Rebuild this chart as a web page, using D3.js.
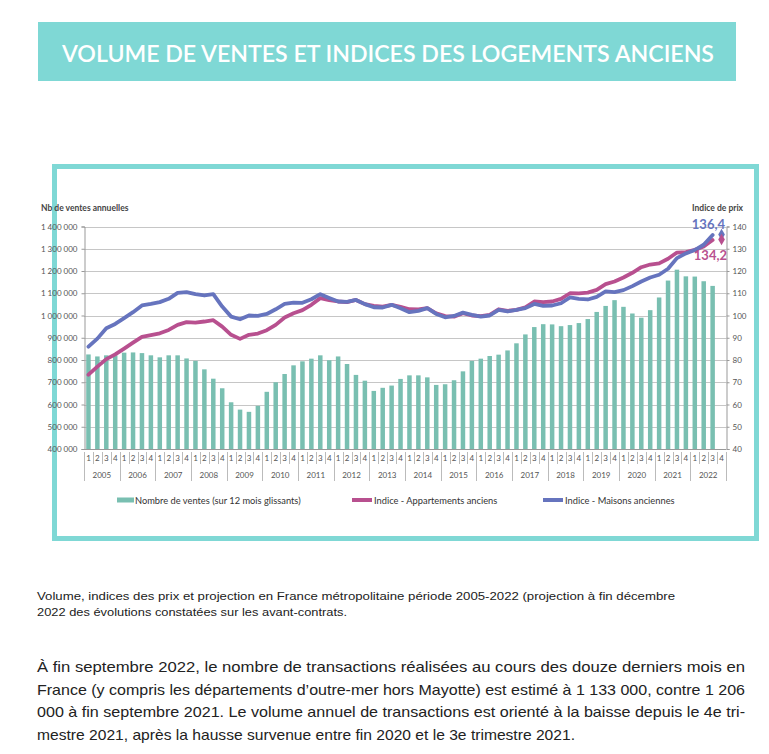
<!DOCTYPE html>
<html><head><meta charset="utf-8">
<script src="https://cdn.jsdelivr.net/npm/d3@7"></script>
<style>body{margin:0;background:#fff}svg{display:block}</style>
</head><body><svg id="c" width="769" height="754"></svg>
<script>
// ---------- data ----------
const years = [2005,2006,2007,2008,2009,2010,2011,2012,2013,2014,2015,2016,2017,2018,2019,2020,2021,2022];
const quarterLabels = ["1","2","3","4"];
// Nombre de ventes (sur 12 mois glissants), 2005T1 .. 2022T3
const ventes = [
  825000,816000,821000,821000, 833000,834000,831000,821000, 812000,821000,821000,807000,
  796000,758000,716000,673000, 610000,577000,567000,594000, 657000,700000,737000,776000,
  794000,806000,821000,799000, 816000,782000,733000,707000, 661000,675000,685000,715000,
  731000,731000,722000,688000, 691000,709000,749000,796000, 806000,818000,824000,843000,
  875000,915000,948000,961000, 960000,952000,957000,966000, 984000,1016000,1043000,1069000,
  1039000,1009000,990000,1024000, 1081000,1157000,1206000,1176000, 1175000,1154000,1133000
];
// Indice - Appartements anciens
const apparts = [
  73.4,77.0,80.4,82.5, 85.1,87.8,90.4,91.2, 92.0,93.5,95.8,97.0,
  96.8,97.3,97.9,95.0, 91.3,89.5,91.3,91.9, 93.4,95.8,99.1,101.0,
  102.4,104.8,107.8,106.9, 106.3,106.0,107.0,105.1, 104.3,104.0,104.8,103.9,
  102.8,102.7,103.3,101.0, 99.7,99.5,101.0,100.0, 99.7,100.3,102.8,102.1,
  102.5,103.7,106.3,106.0, 106.3,107.5,110.0,109.9, 110.3,111.5,114.1,115.3,
  117.1,119.2,121.7,122.9, 123.4,125.5,128.3,128.5, 129.5,131.0,133.9
];
// Indice - Maisons anciennes
const maisons = [
  86.0,89.6,94.3,96.2, 98.8,101.5,104.5,105.2, 106.0,107.5,110.2,110.5,
  109.6,109.0,109.6,104.0, 99.5,98.3,100.0,99.8, 100.7,102.8,105.2,105.8,
  105.7,107.3,109.6,107.9, 106.3,106.1,107.0,105.1, 103.7,103.6,104.8,103.3,
  101.5,102.1,103.3,100.7, 99.2,99.8,101.3,100.3, 99.5,100.0,102.5,101.8,
  102.5,103.3,105.2,104.3, 104.5,105.5,108.1,107.5, 107.2,108.4,110.8,110.5,
  111.4,113.2,115.3,117.1, 118.3,121.0,125.8,127.9, 129.4,131.8,136.2
];
// projection fin 2022 (T4)
const projNames = ["maisons","apparts"];
const projValues = [136.4, 134.2];
const projLabels = ["136,4", "134,2"];
const leftTicks = [400000,500000,600000,700000,800000,900000,1000000,1100000,1200000,1300000,1400000];
const rightTicks = [40,50,60,70,80,90,100,110,120,130,140];
const legendLabels = ["Nombre de ventes (sur 12 mois glissants)","Indice - Appartements anciens","Indice - Maisons anciennes"];

const title = "VOLUME DE VENTES ET INDICES DES LOGEMENTS ANCIENS";
const captionLines = [
  "Volume, indices des prix et projection en France métropolitaine période 2005-2022 (projection à fin décembre",
  "2022 des évolutions constatées sur les avant-contrats."
];
const bodyLines = [
  "À fin septembre 2022, le nombre de transactions réalisées au cours des douze derniers mois en",
  "France (y compris les départements d’outre-mer hors Mayotte) est estimé à 1 133 000, contre 1 206",
  "000 à fin septembre 2021. Le volume annuel de transactions est orienté à la baisse depuis le 4e tri-",
  "mestre 2021, après la hausse survenue entre fin 2020 et le 3e trimestre 2021."
];

// ---------- styles ----------
const TEAL = "#7fd8d5", BAR = "#79bfb1", MAG = "#b8508f", BLUE = "#6674be";
const svg = d3.select("#c");
svg.append("rect").attr("width",769).attr("height",754).attr("fill","#fff");

// title banner
svg.append("rect").attr("x",38).attr("y",22).attr("width",698).attr("height",59).attr("fill",TEAL);
svg.append("text").attr("x",62).attr("y",62).attr("fill","#fff")
  .style("font-family","Lato, 'Open Sans', sans-serif").style("font-size","23.5px").style("font-weight","600")
  .attr("textLength",652).attr("lengthAdjust","spacingAndGlyphs").text(title);

// chart frame
svg.append("rect").attr("x",54.5).attr("y",166.5).attr("width",702).attr("height",372)
  .attr("fill","#fff").attr("stroke",TEAL).attr("stroke-width",5);

// ---------- scales ----------
const n = years.length * 4;
const idx = d3.range(n);
const x = d3.scaleBand().domain(idx).range([84, 726]).padding(0);
const yL = d3.scaleLinear().domain([400000, 1400000]).range([449, 226.5]);
const yR = d3.scaleLinear().domain([40, 140]).range([449, 226.5]);
const cx = i => x(i) + x.bandwidth() / 2;

const g = svg.append("g");
// gridlines
g.selectAll("line.grid").data(leftTicks).join("line").attr("class","grid")
  .attr("x1",84).attr("x2",726).attr("y1",d=>Math.round(yL(d))+0.5).attr("y2",d=>Math.round(yL(d))+0.5)
  .attr("stroke","#c6c6c6").attr("stroke-width",1);

// axes
const fmtL = d => d3.format(",")(d).replace(/,/g, " ");
const axL = g.append("g").attr("transform","translate(84.5,0)")
  .call(d3.axisLeft(yL).tickValues(leftTicks).tickFormat(fmtL).tickSize(3).tickPadding(4));
const axR = g.append("g").attr("transform","translate(726.5,0)")
  .call(d3.axisRight(yR).tickValues(rightTicks).tickSize(3).tickPadding(3));
[axL, axR].forEach(a => {
  a.selectAll("path,line").attr("stroke","#999");
  a.selectAll("text").attr("fill","#555").style("font-family","Lato, sans-serif").style("font-size","8px");
});

// bars
g.selectAll("rect.bar").data(ventes).join("rect").attr("class","bar")
  .attr("x",(d,i)=>cx(i)-2.25).attr("width",4.5)
  .attr("y",d=>yL(d)).attr("height",d=>yL(400000)-yL(d)).attr("fill",BAR);

// bottom axis line
g.append("line").attr("x1",84).attr("x2",726).attr("y1",449.5).attr("y2",449.5).attr("stroke","#999");

// quarter labels and separators
const ql = g.append("g").style("font-family","Lato, sans-serif").style("font-size","8px").attr("fill","#555");
ql.selectAll("text.q").data(idx).join("text").attr("class","q")
  .attr("x",i=>cx(i)).attr("y",461).attr("text-anchor","middle").text(i=>quarterLabels[i%4]);
g.selectAll("line.qs").data(d3.range(0, n+1)).join("line").attr("class","qs")
  .attr("x1",i=>Math.round(i===n?726:x(i))+0.5).attr("x2",i=>Math.round(i===n?726:x(i))+0.5)
  .attr("y1",452).attr("y2",i=>i%4===0?481:464).attr("stroke","#aaa").attr("stroke-width",0.8);
ql.selectAll("text.y").data(years).join("text").attr("class","y")
  .attr("x",(d,k)=>(x(k*4)+ (k*4+4<n? x(k*4+4) : 726))/2).attr("y",478).attr("text-anchor","middle").text(d=>d);

// lines
const line = d3.line().x((d,i)=>cx(i)).y(d=>yR(d)).curve(d3.curveLinear);
g.append("path").datum(apparts).attr("d",line).attr("fill","none").attr("stroke",MAG)
  .attr("stroke-width",3.8).attr("stroke-linejoin","round").attr("stroke-linecap","round");
g.append("path").datum(maisons).attr("d",line).attr("fill","none").attr("stroke",BLUE)
  .attr("stroke-width",3.8).attr("stroke-linejoin","round").attr("stroke-linecap","round");

// projection diamonds + labels
const projColors = [BLUE, MAG];
g.selectAll("path.proj").data(projValues).join("path").attr("class","proj")
  .attr("transform",(d)=>`translate(${cx(n-1)},${yR(d)})`)
  .attr("d",d3.symbol(d3.symbolDiamond, 38)).attr("fill",(d,i)=>projColors[i]);
g.selectAll("text.proj").data(projLabels).join("text").attr("class","proj")
  .attr("x",(d,i)=>i===0?725:727).attr("y",(d,i)=>i===0?229:260).attr("text-anchor","end")
  .attr("fill",(d,i)=>projColors[i])
  .style("font-family","Lato, sans-serif").style("font-size","13px").style("font-weight","700")
  .text(d=>d);

// axis titles
g.append("text").attr("x",41).attr("y",211).attr("fill","#444")
  .style("font-family","Lato, sans-serif").style("font-size","8.5px").style("font-weight","700")
  .text("Nb de ventes annuelles");
g.append("text").attr("x",743).attr("y",211).attr("text-anchor","end").attr("fill","#444")
  .style("font-family","Lato, sans-serif").style("font-size","8.5px").style("font-weight","700")
  .text("Indice de prix");

// legend
const lg = g.append("g").style("font-family","Lato, sans-serif").style("font-size","9.3px").attr("fill","#333");
lg.append("rect").attr("x",117).attr("y",497.5).attr("width",17).attr("height",5).attr("fill",BAR);
lg.append("line").attr("x1",352).attr("x2",372).attr("y1",500).attr("y2",500).attr("stroke",MAG).attr("stroke-width",4);
lg.append("line").attr("x1",543).attr("x2",563).attr("y1",500).attr("y2",500).attr("stroke",BLUE).attr("stroke-width",4);
const lgX = [135, 374, 565];
lg.selectAll("text").data(legendLabels).join("text").attr("x",(d,i)=>lgX[i]).attr("y",503.5).text(d=>d);

// caption
const tf = "'Liberation Sans', Arial, sans-serif";
const capW = [638, 310];
svg.selectAll("text.cap").data(captionLines).join("text").attr("class","cap")
  .attr("x",37).attr("y",(d,i)=>600+i*16).attr("fill","#222")
  .style("font-family",tf).style("font-size","11.5px")
  .attr("textLength",(d,i)=>capW[i]).attr("lengthAdjust","spacingAndGlyphs").text(d=>d);

// body paragraph
const bodyW = [708, 708, 708, 538];
svg.selectAll("text.body").data(bodyLines).join("text").attr("class","body")
  .attr("x",37).attr("y",(d,i)=>672+i*22.5).attr("fill","#222")
  .style("font-family",tf).style("font-size","14.5px")
  .attr("textLength",(d,i)=>bodyW[i]).attr("lengthAdjust","spacingAndGlyphs").text(d=>d);
</script>
</body></html>
